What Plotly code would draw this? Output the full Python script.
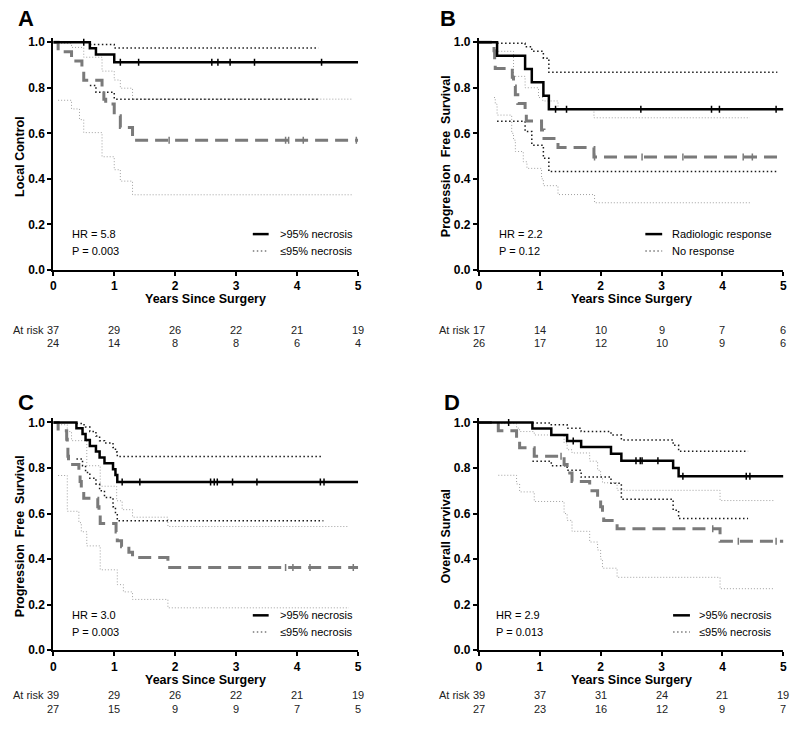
import plotly.graph_objects as go

W, H = 800, 729
FONT = "Arial, 'Liberation Sans', Helvetica, sans-serif"

# ---------------- DATA ----------------
# Panel A : Local Control
A_t1 = [0.6, 0.7, 1.0]
A_s1 = [0.973, 0.946, 0.912]
A_c1 = [0.5, 1.1, 1.4, 2.6, 2.7, 2.9, 3.3, 4.4]
A_ci1_t = [0.6, 0.7, 1.0]
A_hi1 = [0.99, 0.99, 0.975]
A_lo1 = [0.81, 0.78, 0.75]
A_ci1_end = 4.35
A_t2 = [0.08, 0.3, 0.47, 0.5, 0.8, 0.83, 0.86, 1.0, 1.1, 1.3]
A_s2 = [0.958, 0.917, 0.875, 0.833, 0.792, 0.75, 0.729, 0.677, 0.625, 0.569]
A_c2 = [1.9, 3.81, 3.86, 4.1, 4.97]
A_hi2_t = [0.08, 0.3, 0.5, 0.8, 1.0, 1.1, 1.3]
A_hi2 = [0.995, 0.977, 0.934, 0.873, 0.834, 0.798, 0.75]
A_lo2_t = [0.08, 0.3, 0.43, 0.5, 0.8, 1.0, 1.1, 1.3]
A_lo2 = [0.745, 0.707, 0.66, 0.603, 0.497, 0.44, 0.39, 0.33]
A_ci2_end = 4.9
A_risk1 = [37, 29, 26, 22, 21, 19]
A_risk2 = [24, 14, 8, 8, 6, 4]

# Panel B : Progression Free Survival (radiologic response)
B_t1 = [0.3, 0.76, 0.87, 1.06, 1.15]
B_s1 = [0.941, 0.882, 0.824, 0.765, 0.706]
B_c1 = [1.26, 1.44, 2.66, 3.82, 3.95, 4.88]
B_ci1_t = [0.3, 0.76, 0.87, 1.06, 1.15]
B_hi1 = [0.995, 0.98, 0.96, 0.93, 0.868]
B_lo1 = [0.653, 0.608, 0.548, 0.49, 0.432]
B_ci1_end = 4.9
B_t2 = [0.25, 0.26, 0.27, 0.55, 0.57, 0.6, 0.64, 0.76, 0.78, 1.03, 1.07, 1.3, 1.89]
B_s2 = [0.962, 0.923, 0.885, 0.846, 0.808, 0.769, 0.731, 0.692, 0.654, 0.615, 0.577, 0.538, 0.496]
B_c2 = [1.9, 2.68, 3.35, 4.34, 4.49]
B_hi2_t = [0.27, 0.57, 0.76, 0.98, 1.05, 1.3, 1.89]
B_hi2 = [0.96, 0.85, 0.80, 0.757, 0.742, 0.707, 0.668]
B_lo2_t = [0.25, 0.27, 0.3, 0.54, 0.57, 0.6, 0.73, 0.79, 1.03, 1.06, 1.3, 1.9]
B_lo2 = [0.757, 0.728, 0.68, 0.60, 0.57, 0.52, 0.475, 0.446, 0.40, 0.37, 0.331, 0.295]
B_ci2_end = 4.45
B_risk1 = [17, 14, 10, 9, 7, 6]
B_risk2 = [26, 17, 12, 10, 9, 6]

# Panel C : Progression Free Survival (necrosis)
C_t1 = [0.38, 0.48, 0.53, 0.60, 0.70, 0.76, 0.84, 0.98, 1.02, 1.05]
C_s1 = [0.974, 0.949, 0.923, 0.897, 0.872, 0.846, 0.821, 0.795, 0.769, 0.738]
C_c1 = [1.13, 1.42, 2.58, 2.64, 2.69, 2.94, 3.34, 4.38, 4.44]
C_ci1_t = [0.38, 0.48, 0.53, 0.60, 0.70, 0.76, 0.84, 0.98, 1.02, 1.05]
C_hi1 = [0.995, 0.99, 0.98, 0.96, 0.94, 0.92, 0.91, 0.89, 0.87, 0.85]
C_lo1 = [0.84, 0.81, 0.78, 0.755, 0.73, 0.70, 0.67, 0.63, 0.60, 0.568]
C_ci1_end = 4.43
C_t2 = [0.08, 0.22, 0.23, 0.24, 0.25, 0.42, 0.44, 0.46, 0.5, 0.73, 0.75, 0.77,
        1.03, 1.05, 1.12, 1.24, 1.3, 1.88]
C_s2 = [0.963, 0.926, 0.889, 0.852, 0.815, 0.778, 0.741, 0.704, 0.667, 0.630, 0.593, 0.556,
        0.519, 0.481, 0.454, 0.43, 0.407, 0.363]
C_c2 = [3.81, 3.93, 4.21, 4.92]
C_hi2_t = [0.08, 0.23, 0.3, 0.55, 0.77, 1.04, 1.13, 1.3, 1.88]
C_hi2 = [0.99, 0.96, 0.92, 0.81, 0.72, 0.656, 0.617, 0.584, 0.543]
C_lo2_t = [0.08, 0.23, 0.42, 0.46, 0.55, 0.77, 1.05, 1.15, 1.3, 1.88]
C_lo2 = [0.767, 0.61, 0.56, 0.52, 0.458, 0.353, 0.288, 0.256, 0.223, 0.186]
C_ci2_end = 4.85
C_risk1 = [39, 29, 26, 22, 21, 19]
C_risk2 = [27, 15, 9, 9, 7, 5]

# Panel D : Overall Survival
D_t1 = [0.88, 1.19, 1.45, 1.68, 2.17, 2.34, 3.19, 3.28]
D_s1 = [0.973, 0.945, 0.919, 0.892, 0.863, 0.832, 0.80, 0.764]
D_c1 = [0.49, 1.55, 2.58, 2.65, 2.68, 2.94, 3.35, 4.39, 4.45]
D_ci1_t = [0.88, 1.19, 1.45, 1.68, 2.17, 2.34, 3.19, 3.28]
D_hi1 = [0.998, 0.99, 0.975, 0.96, 0.945, 0.923, 0.90, 0.873]
D_lo1 = [0.83, 0.81, 0.79, 0.76, 0.733, 0.663, 0.615, 0.578]
D_ci1_end = 4.42
D_t2 = [0.32, 0.62, 0.67, 0.91, 1.40, 1.45, 1.53, 1.82, 1.95, 2.0, 2.03, 2.05, 2.27, 3.96]
D_s2 = [0.963, 0.926, 0.889, 0.852, 0.815, 0.778, 0.741, 0.70, 0.667, 0.63, 0.593, 0.569, 0.533, 0.478]
D_c2 = [1.35, 3.84, 4.26, 4.88]
D_hi2_t = [0.32, 0.62, 0.67, 0.91, 1.40, 1.45, 1.53, 1.82, 1.95, 2.0, 2.03, 2.27, 3.96]
D_hi2 = [0.995, 0.975, 0.96, 0.945, 0.91, 0.88, 0.866, 0.83, 0.79, 0.76, 0.735, 0.702, 0.657]
D_lo2_t = [0.32, 0.62, 0.67, 0.91, 1.40, 1.45, 1.53, 1.82, 1.95, 2.0, 2.03, 2.27, 3.96]
D_lo2 = [0.768, 0.73, 0.695, 0.653, 0.60, 0.57, 0.522, 0.475, 0.44, 0.40, 0.36, 0.32, 0.27]
D_ci2_end = 4.85
D_risk1 = [39, 37, 31, 24, 21, 19]
D_risk2 = [27, 23, 16, 12, 9, 7]

x_ticks = [0, 1, 2, 3, 4, 5]
y_ticks = [0.0, 0.2, 0.4, 0.6, 0.8, 1.0]
END = 5

panels = [
    dict(letter="A", ytitle="Local Control", hr="HR = 5.8", p="P = 0.003",
         lab1=">95% necrosis", lab2="≤95% necrosis",
         t1=A_t1, s1=A_s1, c1=A_c1, ci1t=A_ci1_t, hi1=A_hi1, lo1=A_lo1, ci1e=A_ci1_end,
         t2=A_t2, s2=A_s2, c2=A_c2, hi2t=A_hi2_t, hi2=A_hi2, lo2t=A_lo2_t, lo2=A_lo2, ci2e=A_ci2_end,
         r1=A_risk1, r2=A_risk2),
    dict(letter="B", ytitle="Progression\u00a0 Free\u00a0 Survival", hr="HR = 2.2", p="P = 0.12",
         lab1="Radiologic response", lab2="No response",
         t1=B_t1, s1=B_s1, c1=B_c1, ci1t=B_ci1_t, hi1=B_hi1, lo1=B_lo1, ci1e=B_ci1_end,
         t2=B_t2, s2=B_s2, c2=B_c2, hi2t=B_hi2_t, hi2=B_hi2, lo2t=B_lo2_t, lo2=B_lo2, ci2e=B_ci2_end,
         r1=B_risk1, r2=B_risk2),
    dict(letter="C", ytitle="Progression\u00a0 Free\u00a0 Survival", hr="HR = 3.0", p="P = 0.003",
         lab1=">95% necrosis", lab2="≤95% necrosis",
         t1=C_t1, s1=C_s1, c1=C_c1, ci1t=C_ci1_t, hi1=C_hi1, lo1=C_lo1, ci1e=C_ci1_end,
         t2=C_t2, s2=C_s2, c2=C_c2, hi2t=C_hi2_t, hi2=C_hi2, lo2t=C_lo2_t, lo2=C_lo2, ci2e=C_ci2_end,
         r1=C_risk1, r2=C_risk2),
    dict(letter="D", ytitle="Overall Survival", hr="HR = 2.9", p="P = 0.013",
         lab1=">95% necrosis", lab2="≤95% necrosis",
         t1=D_t1, s1=D_s1, c1=D_c1, ci1t=D_ci1_t, hi1=D_hi1, lo1=D_lo1, ci1e=D_ci1_end,
         t2=D_t2, s2=D_s2, c2=D_c2, hi2t=D_hi2_t, hi2=D_hi2, lo2t=D_lo2_t, lo2=D_lo2, ci2e=D_ci2_end,
         r1=D_risk1, r2=D_risk2),
]

# ---------------- LAYOUT GEOMETRY (pixels) ----------------
def PX(x):
    return x / W

def PY(y):
    return 1 - y / H

YMAX = 1.02
geo = [
    dict(x0=50.7, x1=358.3, yb=271.3, letter=(13, 17), ytx=17, risk_lab=8,
         hr_x=68, leg_x0=252, leg_x1=268, leg_tx=277, leg_y=(235, 252), xt_y=301, rk_y=(332, 345)),
    dict(x0=480.0, x1=787.3, yb=271.3, letter=(439, 17), ytx=447, risk_lab=438,
         hr_x=498, leg_x0=648, leg_x1=665, leg_tx=673, leg_y=(235, 252), xt_y=301, rk_y=(332, 345)),
    dict(x0=50.7, x1=358.3, yb=656.3, letter=(13, 405), ytx=17, risk_lab=8,
         hr_x=68, leg_x0=252, leg_x1=268, leg_tx=277, leg_y=(621, 638), xt_y=686, rk_y=(702, 716)),
    dict(x0=480.0, x1=787.3, yb=656.3, letter=(443, 405), ytx=447, risk_lab=438,
         hr_x=495, leg_x0=676, leg_x1=693, leg_tx=700, leg_y=(621, 638), xt_y=686, rk_y=(702, 716)),
]
UNIT = 230.6  # px per 1.0 survival

BLACK = "#000000"
GRAY = "#7a7a7a"
LGRAY = "#a0a0a0"
CIBLACK = "#1a1a1a"


def step_from_one(times, vals, end):
    return [0] + list(times) + [end], [1.0] + list(vals) + [vals[-1]]


def step_ci(times, vals, end):
    return list(times) + [end], list(vals) + [vals[-1]]


def surv_at(t, times, vals):
    v = 1.0
    for ti, si in zip(times, vals):
        if ti <= t:
            v = si
    return v


fig = go.Figure()
annotations = []
shapes = []
layout_axes = {}

for i, (p, g) in enumerate(zip(panels, geo)):
    k = "" if i == 0 else str(i + 1)
    xa, ya = "x" + k, "y" + k
    ytop_px = g["yb"] - YMAX * UNIT
    layout_axes["xaxis" + k] = dict(
        domain=[PX(g["x0"]), PX(g["x1"])], range=[0, 5], anchor=ya,
        tickvals=x_ticks, ticks="outside", ticklen=4, tickwidth=2, tickcolor="black",
        showline=True, linewidth=2, linecolor="black", showgrid=False, zeroline=False,
        tickfont=dict(family=FONT, size=12, color="black", weight="bold"),
    )
    layout_axes["yaxis" + k] = dict(
        domain=[PY(g["yb"]), PY(ytop_px)], range=[0, YMAX], anchor=xa,
        tickvals=y_ticks, tickformat=".1f", ticks="outside", ticklen=4, tickwidth=2, tickcolor="black",
        showline=True, linewidth=2, linecolor="black", showgrid=False, zeroline=False,
        tickfont=dict(family=FONT, size=12, color="black", weight="bold"),
    )

    # CI group 2 (light gray dotted)
    for tt, vv in ((p["hi2t"], p["hi2"]), (p["lo2t"], p["lo2"])):
        x, y = step_ci(tt, vv, p["ci2e"])
        fig.add_trace(go.Scatter(x=x, y=y, xaxis=xa, yaxis=ya, mode="lines", line_shape="hv",
                                 line=dict(color=LGRAY, width=1, dash="1px,2px"), hoverinfo="skip"))
    # CI group 1 (black dotted)
    for vv in (p["hi1"], p["lo1"]):
        x, y = step_ci(p["ci1t"], vv, p["ci1e"])
        fig.add_trace(go.Scatter(x=x, y=y, xaxis=xa, yaxis=ya, mode="lines", line_shape="hv",
                                 line=dict(color=CIBLACK, width=1.5, dash="1.5px,2.5px"), hoverinfo="skip"))
    # group 2 KM (gray dashed)
    x, y = step_from_one(p["t2"], p["s2"], END)
    fig.add_trace(go.Scatter(x=x, y=y, xaxis=xa, yaxis=ya, mode="lines", line_shape="hv",
                             line=dict(color=GRAY, width=3, dash="13px,7px")))
    fig.add_trace(go.Scatter(x=p["c2"], y=[surv_at(t, p["t2"], p["s2"]) for t in p["c2"]],
                             xaxis=xa, yaxis=ya, mode="markers",
                             marker=dict(symbol="line-ns-open", size=5, color=GRAY,
                                         line=dict(color=GRAY, width=1.5))))
    # group 1 KM (solid black)
    x, y = step_from_one(p["t1"], p["s1"], END)
    fig.add_trace(go.Scatter(x=x, y=y, xaxis=xa, yaxis=ya, mode="lines", line_shape="hv",
                             line=dict(color=BLACK, width=2.5)))
    fig.add_trace(go.Scatter(x=p["c1"], y=[surv_at(t, p["t1"], p["s1"]) for t in p["c1"]],
                             xaxis=xa, yaxis=ya, mode="markers",
                             marker=dict(symbol="line-ns-open", size=5, color=BLACK,
                                         line=dict(color=BLACK, width=1.5))))

    # panel letter
    annotations.append(dict(text=p["letter"], x=PX(g["letter"][0]), y=PY(g["letter"][1]),
                            xref="paper", yref="paper", xanchor="left", yanchor="middle", showarrow=False,
                            font=dict(family=FONT, size=22, color="black", weight="bold")))
    # y title
    ymid = g["yb"] - 0.5 * UNIT
    annotations.append(dict(text=p["ytitle"], x=PX(g["ytx"]), y=PY(ymid), xref="paper", yref="paper",
                            textangle=-90, xanchor="center", yanchor="middle", showarrow=False,
                            font=dict(family=FONT, size=12.5, color="black", weight="bold")))
    # x title
    annotations.append(dict(text="Years Since Surgery", x=PX((g["x0"] + g["x1"]) / 2), y=PY(g["xt_y"]),
                            xref="paper", yref="paper", xanchor="center", yanchor="middle", showarrow=False,
                            font=dict(family=FONT, size=12.5, color="black", weight="bold")))
    # HR / P
    for txt, yy in ((p["hr"], g["leg_y"][0]), (p["p"], g["leg_y"][1])):
        annotations.append(dict(text=txt, x=PX(g["hr_x"]), y=PY(yy), xref="paper", yref="paper",
                                xanchor="left", yanchor="middle", showarrow=False,
                                font=dict(family=FONT, size=11, color="black")))
    # legend
    for txt, yy in ((p["lab1"], g["leg_y"][0]), (p["lab2"], g["leg_y"][1])):
        annotations.append(dict(text=txt, x=PX(g["leg_tx"]), y=PY(yy), xref="paper", yref="paper",
                                xanchor="left", yanchor="middle", showarrow=False,
                                font=dict(family=FONT, size=11, color="black")))
    shapes.append(dict(type="line", xref="paper", yref="paper", x0=PX(g["leg_x0"]), x1=PX(g["leg_x1"]),
                       y0=PY(g["leg_y"][0]), y1=PY(g["leg_y"][0]), line=dict(color=BLACK, width=2.5)))
    shapes.append(dict(type="line", xref="paper", yref="paper", x0=PX(g["leg_x0"]), x1=PX(g["leg_x1"]),
                       y0=PY(g["leg_y"][1]), y1=PY(g["leg_y"][1]),
                       line=dict(color=GRAY, width=1.5, dash="1.5px,2.5px")))
    # at risk
    annotations.append(dict(text="At risk", x=PX(g["risk_lab"]), y=PY(g["rk_y"][0]), xref="paper", yref="paper",
                            xanchor="left", yanchor="middle", showarrow=False,
                            font=dict(family=FONT, size=11, color="#222")))
    for row, yy in ((p["r1"], g["rk_y"][0]), (p["r2"], g["rk_y"][1])):
        for xv, n in zip(x_ticks, row):
            annotations.append(dict(text=str(n), x=xv, y=PY(yy), xref=xa, yref="paper",
                                    xanchor="center", yanchor="middle", showarrow=False,
                                    font=dict(family=FONT, size=11, color="#222")))

fig.update_layout(
    width=W, height=H, margin=dict(l=0, r=0, t=0, b=0),
    paper_bgcolor="white", plot_bgcolor="white", showlegend=False,
    annotations=annotations, shapes=shapes, **layout_axes,
)

fig.write_html("out.html", config={"displayModeBar": False},
               post_script="document.body.style.margin='0';document.body.style.overflow='hidden';")
